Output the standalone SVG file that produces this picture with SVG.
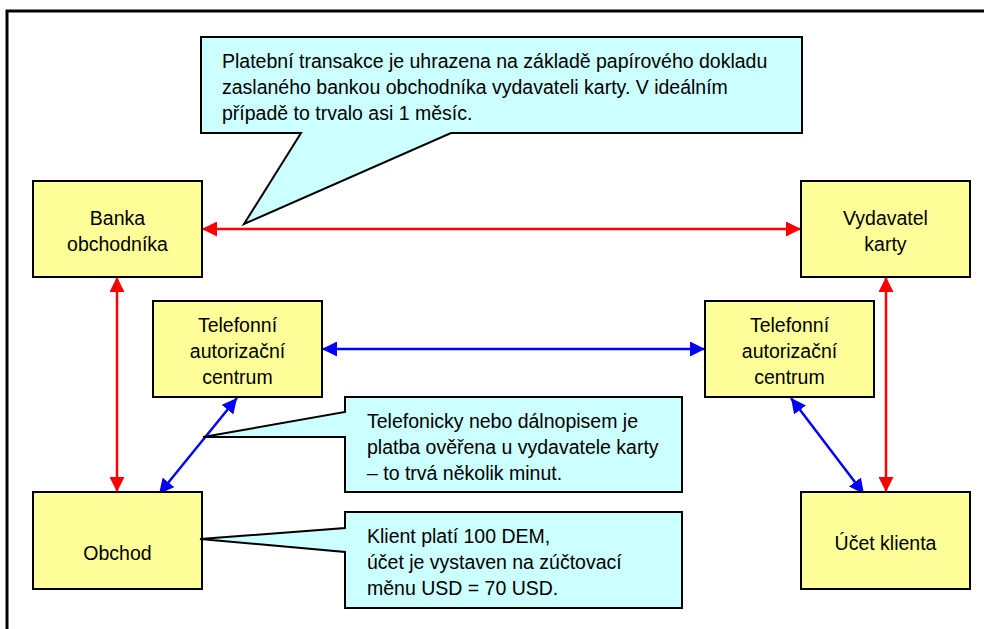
<svg xmlns="http://www.w3.org/2000/svg" width="984" height="629" viewBox="0 0 984 629">
<style>
text{font-family:"Liberation Sans",Arial,sans-serif;font-size:19.5px;fill:#000}
.n{fill:#FFFF99;stroke:#000;stroke-width:2}
.c{fill:#CCFFFF;stroke:#000;stroke-width:2;stroke-linejoin:miter}
.m{text-anchor:middle}
.r{stroke:#FF0000;stroke-width:2.5;fill:none}
.b{stroke:#0000FF;stroke-width:2.5;fill:none}
</style>
<defs>
<marker id="ar" viewBox="0 0 10 10" refX="10" refY="5" markerWidth="6" markerHeight="6" orient="auto-start-reverse" markerUnits="strokeWidth"><path d="M0,0L10,5L0,10z" fill="#FF0000"/></marker>
<marker id="ab" viewBox="0 0 10 10" refX="10" refY="5" markerWidth="6" markerHeight="6" orient="auto-start-reverse" markerUnits="strokeWidth"><path d="M0,0L10,5L0,10z" fill="#0000FF"/></marker>
</defs>
<rect x="7" y="11" width="1000" height="700" fill="#fff" stroke="#000" stroke-width="3"/>
<g id="connectors">
<line class="r" x1="202" y1="229" x2="801" y2="229" marker-start="url(#ar)" marker-end="url(#ar)"/>
<line class="r" x1="117" y1="277" x2="117" y2="492" marker-start="url(#ar)" marker-end="url(#ar)"/>
<line class="r" x1="886" y1="277" x2="886" y2="492" marker-start="url(#ar)" marker-end="url(#ar)"/>
<line class="b" x1="322" y1="349" x2="705" y2="349" marker-start="url(#ab)" marker-end="url(#ab)"/>
<line class="b" x1="237" y1="398" x2="159" y2="494" marker-start="url(#ab)" marker-end="url(#ab)"/>
<line class="b" x1="791" y1="398" x2="864" y2="494" marker-start="url(#ab)" marker-end="url(#ab)"/>
</g>
<g id="callout-platebni">
<path class="c" d="M201,37H802V133H451L244,224L301,133H201Z"/>
<text x="222" y="68">Platební transakce je uhrazena na základě papírového dokladu</text>
<text x="222" y="94">zaslaného bankou obchodníka vydavateli karty. V ideálním</text>
<text x="222" y="120">případě to trvalo asi 1 měsíc.</text>
</g>
<g id="banka">
<rect class="n" x="33" y="181" width="169" height="96"/>
<text class="m" x="117.5" y="225">Banka</text>
<text class="m" x="117.5" y="251">obchodníka</text>
</g>
<g id="vydavatel">
<rect class="n" x="801" y="181" width="169" height="96"/>
<text class="m" x="885.5" y="225">Vydavatel</text>
<text class="m" x="885.5" y="251">karty</text>
</g>
<g id="tel-left">
<rect class="n" x="153" y="301" width="169" height="96"/>
<text class="m" x="237.5" y="332">Telefonní</text>
<text class="m" x="237.5" y="358">autorizační</text>
<text class="m" x="237.5" y="384">centrum</text>
</g>
<g id="tel-right">
<rect class="n" x="705" y="301" width="169" height="96"/>
<text class="m" x="789.5" y="332">Telefonní</text>
<text class="m" x="789.5" y="358">autorizační</text>
<text class="m" x="789.5" y="384">centrum</text>
</g>
<g id="callout-telefonicky">
<path class="c" d="M345,397H682V492H345V437H203L345,412Z"/>
<text x="367" y="428">Telefonicky nebo dálnopisem je</text>
<text x="367" y="454">platba ověřena u vydavatele karty</text>
<text x="367" y="480">– to trvá několik minut.</text>
</g>
<g id="obchod">
<rect class="n" x="33" y="492" width="169" height="97"/>
<text class="m" x="117.5" y="560">Obchod</text>
</g>
<g id="callout-klient">
<path class="c" d="M345,512H682V608H345V552L200,539L345,528Z"/>
<text x="367" y="543">Klient platí 100 DEM,</text>
<text x="367" y="569">účet je vystaven na zúčtovací</text>
<text x="367" y="595">měnu USD = 70 USD.</text>
</g>
<g id="ucet">
<rect class="n" x="801" y="492" width="169" height="97"/>
<text class="m" x="885.5" y="550">Účet klienta</text>
</g>
</svg>
